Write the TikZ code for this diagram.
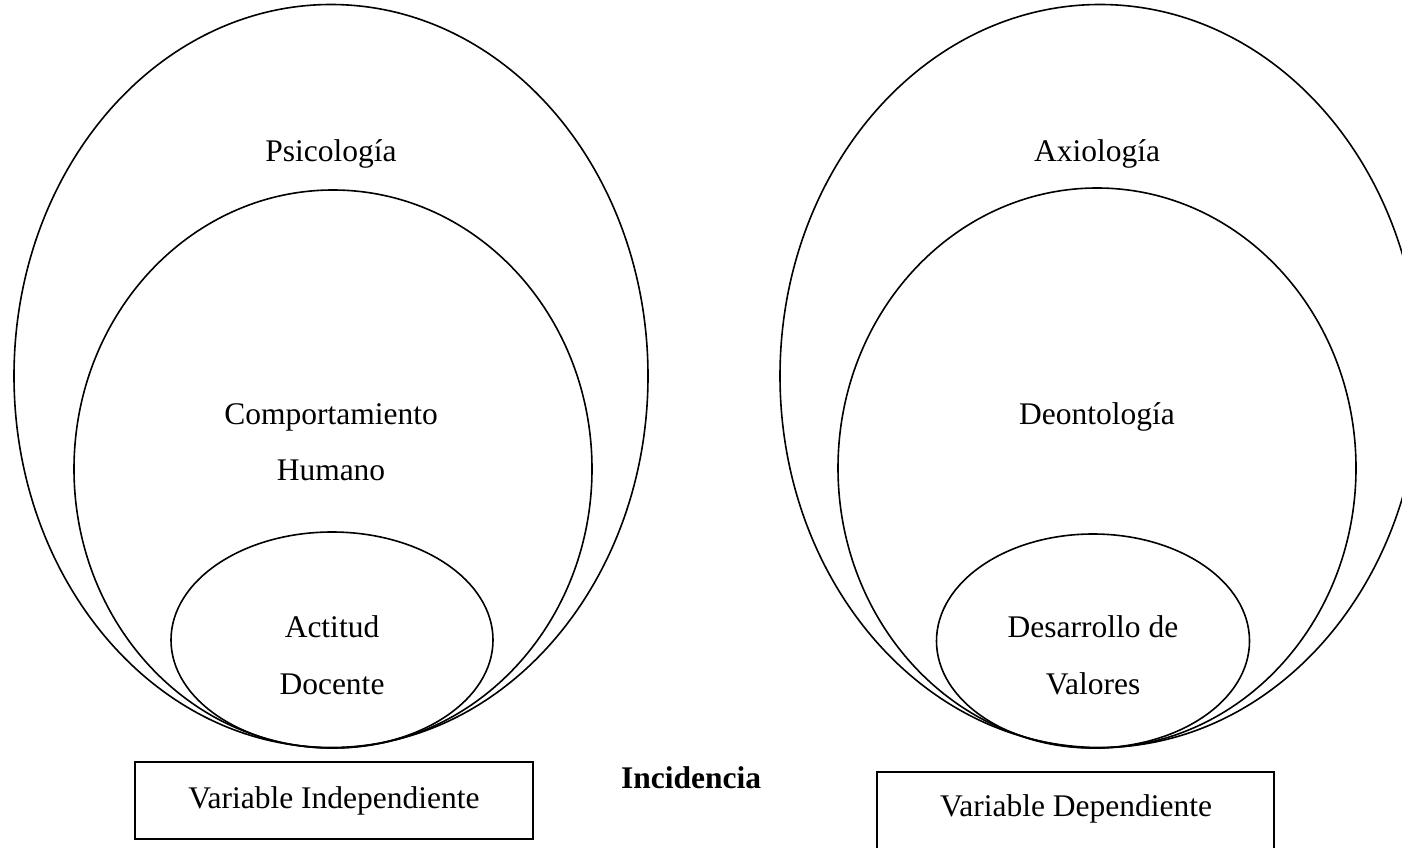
\documentclass[tikz,border=0pt]{standalone}
\usepackage{fontspec}
\setmainfont{Liberation Serif}
\usetikzlibrary{shapes.geometric}

\begin{document}
\begin{tikzpicture}[x=1pt, y=-1pt, line width=1.6pt,
	ring/.style={draw, ellipse, inner sep=0pt, outer sep=0pt},
	lbl/.style={anchor=base, inner sep=0pt, font=\fontsize{31.5}{38}\selectfont},
	varbox/.style={draw, rectangle, inner sep=0pt, outer sep=0pt}]
	\clip (0,0) rectangle (1402,848);
	% left
	\node[ring, minimum width=634pt, minimum height=743pt] (psico) at (331,376) {};
	\node[ring, minimum width=518pt, minimum height=558pt] (comport) at (333,469) {};
	\node[ring, minimum width=322pt, minimum height=216pt] (actitud) at (332,640) {};
	\node[lbl] (psicotxt) at (331,161) {Psicología};
	\node[lbl] (comptxt) at (331,424) {Comportamiento};
	\node[lbl] (humtxt) at (331,480) {Humano};
	\node[lbl] (acttxt) at (332,637) {Actitud};
	\node[lbl] (doctxt) at (332,694) {Docente};
	\node[varbox, minimum width=398pt, minimum height=77pt] (indep) at (334,800.5) {};
	\node[lbl] (indeptxt) at (334,808) {Variable Independiente};
	% middle
	\node[lbl, font=\fontsize{31.5}{38}\selectfont\bfseries] (incid) at (691,788) {Incidencia};
	% right
	\node[ring, minimum width=640pt, minimum height=743pt] (axio) at (1100,376) {};
	\node[ring, minimum width=518pt, minimum height=560pt] (deonto) at (1097,468) {};
	\node[ring, minimum width=313pt, minimum height=214pt] (valores) at (1093,641) {};
	\node[lbl] (axiotxt) at (1097,161) {Axiología};
	\node[lbl] (deontotxt) at (1097,424) {Deontología};
	\node[lbl] (desatxt) at (1093,637) {Desarrollo de};
	\node[lbl] (valtxt) at (1093,694) {Valores};
	\node[varbox, minimum width=397pt, minimum height=96pt] (dep) at (1075.5,820) {};
	\node[lbl] (deptxt) at (1076,816) {Variable Dependiente};
\end{tikzpicture}
\end{document}
